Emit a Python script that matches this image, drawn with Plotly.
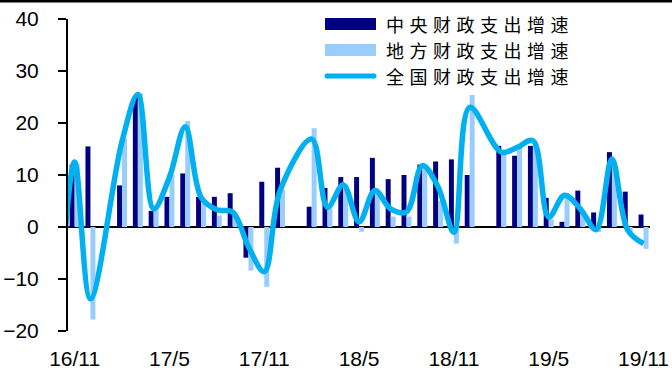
import plotly.graph_objects as go

# ---- data ----
months = ["16/10", "16/11", "16/12", "17/1", "17/2", "17/3", "17/4", "17/5", "17/6", "17/7",
          "17/8", "17/9", "17/10", "17/11", "17/12", "18/1", "18/2", "18/3", "18/4", "18/5",
          "18/6", "18/7", "18/8", "18/9", "18/10", "18/11", "18/12", "19/1", "19/2", "19/3",
          "19/4", "19/5", "19/6", "19/7", "19/8", "19/9", "19/10", "19/11"]

central = [None, 12.0, 15.5, None, 8.0, 25.0, 3.1, 5.8, 10.3, 5.8,
           5.8, 6.5, -5.9, 8.7, 11.4, None, 3.9, 7.5, 9.6, 9.6,
           13.3, 9.2, 10.0, 12.0, 12.6, 13.0, 10.0, None, 15.6, 13.7,
           15.6, 5.6, 1.0, 7.0, 2.8, 14.4, 6.8, 2.4]

local = [None, 12.2, -17.8, None, 17.0, 25.7, 3.5, 10.1, 20.4, 4.5,
         2.2, 2.5, -8.4, -11.5, 7.2, None, 19.0, 3.6, 8.1, -0.9,
         6.5, 2.0, 2.0, 11.6, 5.0, -3.2, 25.4, None, 14.2, 15.2,
         16.4, 1.5, 6.5, 3.0, -1.0, 12.0, -1.5, -4.2]

national = [-18.0, 12.5, -13.8, None, 16.5, 25.5, 3.5, 9.6, 19.3, 5.7,
            3.3, 2.9, -3.8, -8.6, 7.0, None, 16.9, 3.8, 8.1, 1.0,
            7.0, 3.5, 2.9, 11.8, 7.7, -1.0, 23.0, None, 14.4, 15.3,
            16.6, 1.9, 6.1, 3.5, -0.5, 13.1, -0.6, -3.2]

tick_labels = ["16/11", "17/5", "17/11", "18/5", "18/11", "19/5", "19/11"]
series_names = ["中央财政支出增速", "地方财政支出增速", "全国财政支出增速"]

C_DARK = "#000080"
C_LIGHT = "#99CCFF"
C_LINE = "#00B0F0"

# ---- layout geometry (pixels) ----
W, H = 672, 374
L, R, T, B = 68, 22, 19, 43
PW, PH = W - L - R, H - T - B


def px_x(p):
    return (p - L) / PW


def px_y(p):
    return (H - B - p) / PH


fig = go.Figure()
fig.add_trace(go.Bar(x=months, y=central, name=series_names[0], marker_color=C_DARK,
                     marker_line_width=0, showlegend=False))
fig.add_trace(go.Bar(x=months, y=local, name=series_names[1], marker_color=C_LIGHT,
                     marker_line_width=0, showlegend=False))
fig.add_trace(go.Scatter(x=months, y=national, name=series_names[2], mode="lines",
                         line=dict(color=C_LINE, width=5.5, shape="spline", smoothing=1.0),
                         connectgaps=True, showlegend=False))

TICKFONT = dict(size=21, family="Liberation Sans, Arial, sans-serif", color="black")

fig.update_layout(
    width=W, height=H,
    margin=dict(l=L, r=R, t=T, b=B, pad=0, autoexpand=False),
    paper_bgcolor="white", plot_bgcolor="white",
    barmode="group", bargap=0.37, bargroupgap=0,
    font=dict(family="Liberation Sans, Arial, sans-serif", size=20, color="black"),
)

fig.update_xaxes(
    type="category", categoryorder="array", categoryarray=months,
    range=[0.58, 37.41], automargin=False,
    tickmode="array", tickvals=tick_labels, ticktext=tick_labels,
    showgrid=False, showline=False, ticks="", zeroline=False,
    ticklabelstandoff=13,
    tickfont=TICKFONT,
)
fig.update_yaxes(
    range=[-20, 40], dtick=10, tick0=0, automargin=False,
    showgrid=False, showline=True, linecolor="black", linewidth=2,
    ticks="outside", ticklen=8, tickwidth=2, tickcolor="black",
    zeroline=True, zerolinecolor="black", zerolinewidth=2,
    ticklabelstandoff=15,
    tickfont=TICKFONT,
)

shapes = []
# top border line
shapes.append(dict(type="line", xref="paper", yref="paper",
                   x0=px_x(0), x1=px_x(W), y0=px_y(1), y1=px_y(1),
                   line=dict(color="black", width=3)))
# custom legend symbols
shapes.append(dict(type="rect", xref="paper", yref="paper",
                   x0=px_x(325), x1=px_x(376), y0=px_y(30), y1=px_y(18),
                   fillcolor=C_DARK, line=dict(width=0)))
shapes.append(dict(type="rect", xref="paper", yref="paper",
                   x0=px_x(325), x1=px_x(376), y0=px_y(56), y1=px_y(44),
                   fillcolor=C_LIGHT, line=dict(width=0)))
shapes.append(dict(type="line", xref="paper", yref="paper",
                   x0=px_x(327), x1=px_x(374), y0=px_y(76), y1=px_y(76),
                   line=dict(color=C_LINE, width=5)))
for cx in (327, 374):
    shapes.append(dict(type="circle", xref="paper", yref="paper",
                       x0=px_x(cx - 2.5), x1=px_x(cx + 2.5), y0=px_y(78.5), y1=px_y(73.5),
                       fillcolor=C_LINE, line=dict(width=0)))
fig.update_layout(shapes=shapes)

for name, cy in zip(series_names, (24, 50, 76)):
    fig.add_annotation(xref="paper", yref="paper", x=px_x(384), y=px_y(cy),
                       xanchor="left", yanchor="middle", showarrow=False,
                       text='<span style="letter-spacing:5.5px">' + name + '</span>',
                       font=dict(family="Noto Sans CJK SC", size=18, color="black"))

fig.write_html("out.html")
